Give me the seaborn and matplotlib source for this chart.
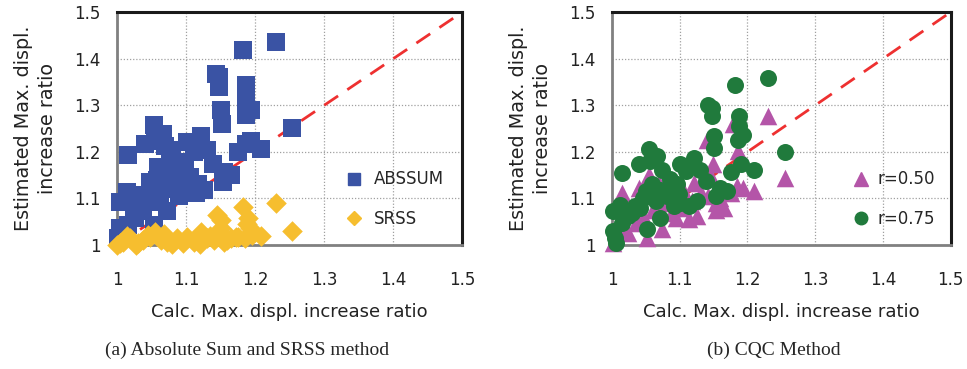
import matplotlib
matplotlib.use("Agg")
from matplotlib import pyplot as plt
from matplotlib.lines import Line2D
import pandas as pd
import seaborn as sns

# (a) ABSSUM - blue squares
abssum_x = [1.230, 1.182, 1.143, 1.148, 1.148, 1.187, 1.187, 1.187, 1.194, 1.187, 1.150, 1.152,
            1.254, 1.054, 1.067, 1.040, 1.055, 1.070, 1.077, 1.016, 1.101, 1.121, 1.131, 1.111,
            1.175, 1.187, 1.194, 1.209, 1.087, 1.099, 1.060, 1.070, 1.139, 1.155, 1.165, 1.153,
            1.048, 1.058, 1.077, 1.092, 1.104, 1.126, 1.114, 1.097, 1.082, 1.067, 1.050, 1.038,
            1.014, 1.004, 1.014, 1.033, 1.053, 1.072, 1.038, 1.026, 1.016, 1.004, 1.001, 1.053,
            1.014, 1.085, 1.095, 1.108, 1.118, 1.062, 1.045, 1.090, 1.105, 1.080, 1.065, 1.025]
abssum_y = [1.435, 1.419, 1.368, 1.360, 1.340, 1.343, 1.320, 1.300, 1.290, 1.280, 1.290, 1.260,
            1.251, 1.257, 1.238, 1.217, 1.224, 1.213, 1.203, 1.194, 1.221, 1.235, 1.203, 1.199,
            1.199, 1.217, 1.224, 1.206, 1.178, 1.164, 1.167, 1.157, 1.174, 1.157, 1.150, 1.135,
            1.135, 1.139, 1.143, 1.143, 1.132, 1.118, 1.111, 1.114, 1.121, 1.125, 1.118, 1.107,
            1.114, 1.093, 1.096, 1.096, 1.093, 1.072, 1.072, 1.057, 1.043, 1.036, 1.015, 1.043,
            1.029, 1.130, 1.125, 1.125, 1.130, 1.105, 1.100, 1.105, 1.145, 1.190, 1.150, 1.080]

# (a) SRSS - yellow diamonds
srss_x = [1.182, 1.230, 1.145, 1.150, 1.150, 1.190, 1.192, 1.195, 1.254, 1.209, 1.172,
          1.000, 1.009, 1.019, 1.028, 1.038, 1.048, 1.055, 1.063, 1.072, 1.087, 1.101, 1.111,
          1.121, 1.131, 1.140, 1.155, 1.165, 1.175, 1.185, 1.005, 1.030, 1.080, 1.120,
          1.045, 1.095, 1.135, 1.160, 1.015, 1.068, 1.188]
srss_y = [1.082, 1.091, 1.065, 1.054, 1.036, 1.057, 1.036, 1.022, 1.030, 1.020, 1.018,
          1.000, 1.007, 1.014, 1.000, 1.011, 1.018, 1.029, 1.011, 1.007, 1.014, 1.018, 1.007,
          1.029, 1.014, 1.011, 1.007, 1.014, 1.018, 1.014, 1.004, 1.005, 1.003, 1.002,
          1.022, 1.005, 1.020, 1.010, 1.020, 1.024, 1.046]

# (b) r=0.50 - magenta triangles
r50_x = [1.231, 1.255, 1.179, 1.140, 1.149, 1.186, 1.186, 1.185, 1.194, 1.209, 1.176, 1.154,
         1.166, 1.154, 1.141, 1.121, 1.131, 1.126, 1.114, 1.094, 1.074, 1.051, 1.054, 1.039,
         1.015, 1.069, 1.104, 1.084, 1.061, 1.036, 1.024, 1.001, 1.011, 1.046, 1.089,
         1.145, 1.100, 1.078, 1.118, 1.160]
r50_y = [1.276, 1.144, 1.259, 1.226, 1.173, 1.201, 1.180, 1.126, 1.123, 1.116, 1.112, 1.091,
         1.080, 1.076, 1.105, 1.134, 1.112, 1.062, 1.055, 1.059, 1.034, 1.016, 1.151, 1.123,
         1.112, 1.134, 1.119, 1.098, 1.076, 1.048, 1.026, 1.005, 1.034, 1.062, 1.069,
         1.150, 1.080, 1.090, 1.095, 1.100]

# (b) r=0.75 - green circles
r75_x = [1.231, 1.181, 1.142, 1.148, 1.147, 1.187, 1.187, 1.194, 1.186, 1.151, 1.151, 1.255,
         1.054, 1.067, 1.039, 1.056, 1.074, 1.101, 1.121, 1.109, 1.130, 1.015, 1.176, 1.191,
         1.209, 1.139, 1.159, 1.169, 1.154, 1.086, 1.096, 1.059, 1.071, 1.046, 1.056, 1.081,
         1.099, 1.101, 1.126, 1.114, 1.091, 1.034, 1.011, 1.001, 1.024, 1.071, 1.051, 1.014,
         1.001, 1.004, 1.006, 1.029, 1.041, 1.065, 1.090, 1.050, 1.020]
r75_y = [1.359, 1.343, 1.300, 1.294, 1.276, 1.276, 1.255, 1.237, 1.226, 1.235, 1.209, 1.199,
         1.206, 1.191, 1.173, 1.180, 1.162, 1.175, 1.187, 1.159, 1.162, 1.155, 1.156, 1.173,
         1.162, 1.137, 1.123, 1.116, 1.105, 1.141, 1.130, 1.130, 1.119, 1.101, 1.105, 1.105,
         1.109, 1.091, 1.094, 1.084, 1.084, 1.084, 1.087, 1.073, 1.062, 1.059, 1.034, 1.048,
         1.030, 1.016, 1.005, 1.069, 1.080, 1.095, 1.120, 1.115, 1.070]

ticks = [1, 1.1, 1.2, 1.3, 1.4, 1.5]
tick_labels = ["1", "1.1", "1.2", "1.3", "1.4", "1.5"]

BLUE = "#3a53a4"
YELLOW = "#f6be2f"
MAGENTA = "#b455a8"
GREEN = "#207a3c"
RED = "#ee3030"

sns.set_style("white")
plt.rcParams["font.family"] = ["DejaVu Sans"]

fig = plt.figure(figsize=(9.67, 3.69), dpi=100)
ax1 = fig.add_axes([0.121, 0.336, 0.357, 0.631])
ax2 = fig.add_axes([0.633, 0.336, 0.350, 0.631])


def style_axes(ax):
    ax.set_xlim(1, 1.5)
    ax.set_ylim(1, 1.5)
    ax.set_xticks(ticks)
    ax.set_xticklabels(tick_labels)
    ax.set_yticks(ticks)
    ax.set_yticklabels(tick_labels)
    ax.tick_params(length=0, labelsize=12, colors="#222222")
    ax.tick_params(axis="x", pad=19)
    ax.tick_params(axis="y", pad=12)
    ax.grid(True, color="#a0a0a0", linestyle=(0, (1, 1.5)), linewidth=0.9)
    ax.set_axisbelow(True)
    for side in ["left", "bottom"]:
        ax.spines[side].set_color("#808080")
        ax.spines[side].set_linewidth(2)
    for side in ["top", "right"]:
        ax.spines[side].set_color("#1a1a1a")
        ax.spines[side].set_linewidth(2.2)
    ax.plot([1, 1.5], [1, 1.5], color=RED, linestyle=(0, (6, 4)), linewidth=2, zorder=1)


style_axes(ax1)
style_axes(ax2)

df_a1 = pd.DataFrame({"x": abssum_x, "y": abssum_y})
df_a2 = pd.DataFrame({"x": srss_x, "y": srss_y})
sns.scatterplot(data=df_a1, x="x", y="y", ax=ax1, marker="s", color=BLUE, s=170,
                linewidth=0, zorder=3, clip_on=False)
sns.scatterplot(data=df_a2, x="x", y="y", ax=ax1, marker="D", color=YELLOW, s=110,
                linewidth=0, zorder=4, clip_on=False)

df_b1 = pd.DataFrame({"x": r50_x, "y": r50_y})
df_b2 = pd.DataFrame({"x": r75_x, "y": r75_y})
sns.scatterplot(data=df_b1, x="x", y="y", ax=ax2, marker="^", color=MAGENTA, s=160,
                linewidth=0, zorder=3, clip_on=False)
sns.scatterplot(data=df_b2, x="x", y="y", ax=ax2, marker="o", color=GREEN, s=150,
                linewidth=0, zorder=4, clip_on=False)

for ax in (ax1, ax2):
    ax.set_xlabel("Calc. Max. displ. increase ratio", fontsize=13, labelpad=10,
                  color="#222222")
    ax.set_ylabel("Estimated Max. displ.\nincrease ratio", fontsize=13.8, labelpad=12,
                  linespacing=1.35, color="#222222")

h1 = [Line2D([], [], marker="s", color=BLUE, linestyle="", markersize=9),
      Line2D([], [], marker="D", color=YELLOW, linestyle="", markersize=7)]
ax1.legend(h1, ["ABSSUM", "SRSS"], loc="lower right", frameon=False, fontsize=12,
           handletextpad=0.15, labelspacing=1.3, borderaxespad=0.2,
           bbox_to_anchor=(0.975, 0.03))
h2 = [Line2D([], [], marker="^", color=MAGENTA, linestyle="", markersize=10),
      Line2D([], [], marker="o", color=GREEN, linestyle="", markersize=9)]
ax2.legend(h2, ["r=0.50", "r=0.75"], loc="lower right", frameon=False, fontsize=12,
           handletextpad=0.0, labelspacing=1.3, borderaxespad=0.2,
           bbox_to_anchor=(0.985, 0.03))

fig.text(0.256, 0.05, "(a) Absolute Sum and SRSS method", ha="center", va="center",
         fontsize=14, family="Liberation Serif")
fig.text(0.80, 0.05, "(b) CQC Method", ha="center", va="center",
         fontsize=14, family="Liberation Serif")

fig.savefig("out.png", dpi=100)
